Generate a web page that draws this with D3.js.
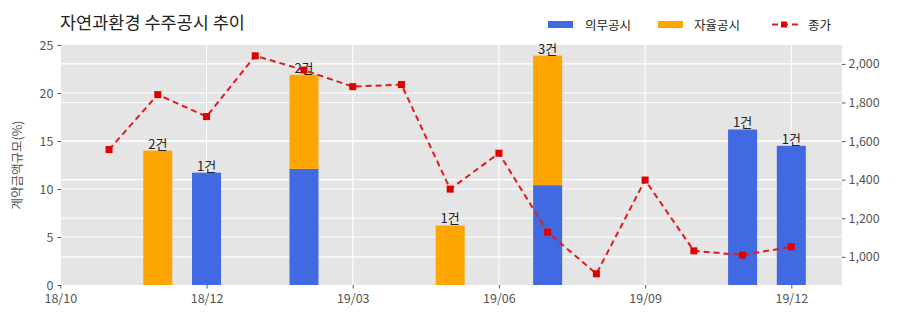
<!DOCTYPE html>
<html>
<head>
<meta charset="utf-8">
<script src="https://cdn.jsdelivr.net/npm/d3@7"></script>
<style>
  body { margin: 0; background: #fff; }
  text { font-family: "Noto Sans CJK KR", "Noto Sans", sans-serif; }
</style>
</head>
<body>
<svg width="900" height="323"></svg>
<script>
// x positions are month slots 0..15, tick labels as printed on the chart
const tickIdx = [0, 3, 6, 9, 12, 15];
const tickLabels = ['18/10', '18/12', '19/03', '19/06', '19/09', '19/12'];

// disclosure bars (contract size, % of sales)
const barIdx = [2, 3, 5, 8, 10, 14, 15];
const mandatory = [0, 11.7, 12.1, 0, 10.4, 16.2, 14.5];
const voluntary = [14.0, 0, 9.8, 6.2, 13.5, 0, 0];
const counts = [2, 1, 2, 1, 3, 1, 1];

// closing price
const priceIdx = [1, 2, 3, 4, 5, 6, 7, 8, 9, 10, 11, 12, 13, 14, 15];
const price = [1556, 1841, 1727, 2042, 1968, 1882, 1893, 1351, 1537, 1128, 912, 1398, 1031, 1009, 1052];

const leftTicks = [0, 5, 10, 15, 20, 25];
const rightTicks = [1000, 1200, 1400, 1600, 1800, 2000];

const svg = d3.select('svg');
const pl = 61, pr = 842, pt = 45, pb = 285;

const x = d3.scaleLinear().domain([0.014, 16.04]).range([pl, pr]);
const y = d3.scaleLinear().domain([0, 25]).range([pb, pt]);
const y2 = d3.scaleLinear().domain([854, 2098]).range([pb, pt]);

// panel
svg.append('rect').attr('x', pl).attr('y', pt)
  .attr('width', pr - pl).attr('height', pb - pt).attr('fill', '#e5e5e5');

const grid = svg.append('g').attr('stroke', '#fff').attr('stroke-width', 1.1);
grid.selectAll('.gl').data(leftTicks.slice(1, -1)).enter().append('line')
  .attr('x1', pl).attr('x2', pr).attr('y1', d => y(d)).attr('y2', d => y(d));
grid.selectAll('.gr').data(rightTicks).enter().append('line')
  .attr('x1', pl).attr('x2', pr).attr('y1', d => y2(d)).attr('y2', d => y2(d));
grid.selectAll('.gx').data(tickIdx.slice(1)).enter().append('line')
  .attr('y1', pt).attr('y2', pb).attr('x1', d => x(d)).attr('x2', d => x(d));

// stacked bars
const bw = 29;
const bars = barIdx.map((idx, i) => ({ idx, m: mandatory[i], v: voluntary[i], n: counts[i] }));
svg.selectAll('.bm').data(bars.filter(d => d.m > 0)).enter().append('rect')
  .attr('x', d => x(d.idx) - bw / 2).attr('width', bw)
  .attr('y', d => y(d.m)).attr('height', d => y(0) - y(d.m))
  .attr('fill', '#4169e1');
svg.selectAll('.bv').data(bars.filter(d => d.v > 0)).enter().append('rect')
  .attr('x', d => x(d.idx) - bw / 2).attr('width', bw)
  .attr('y', d => y(d.m + d.v)).attr('height', d => y(d.m) - y(d.m + d.v))
  .attr('fill', '#ffa500');
svg.selectAll('.bl').data(bars).enter().append('text')
  .attr('x', d => x(d.idx)).attr('y', d => y(d.m + d.v) - 2)
  .attr('text-anchor', 'middle').attr('font-size', 13).attr('fill', '#222')
  .text(d => d.n + '건');

// price line
const pts = priceIdx.map((idx, i) => [idx, price[i]]);
svg.append('path').datum(pts)
  .attr('fill', 'none').attr('stroke', '#e31a1c').attr('stroke-width', 2)
  .attr('stroke-dasharray', '6,4')
  .attr('d', d3.line().x(d => x(d[0])).y(d => y2(d[1])));
svg.selectAll('.pm').data(pts).enter().append('rect')
  .attr('x', d => x(d[0]) - 3.5).attr('y', d => y2(d[1]) - 3.5)
  .attr('width', 7).attr('height', 7).attr('fill', '#e00000');

// axes
const axStyle = g => {
  g.select('.domain').remove();
  g.selectAll('line').attr('stroke', '#555');
  g.selectAll('text').attr('fill', '#555').attr('font-size', 12.5);
};
svg.append('g').attr('transform', `translate(${pl},0)`)
  .call(d3.axisLeft(y).tickValues(leftTicks).tickSize(3.5).tickPadding(4))
  .call(axStyle);
svg.append('g').attr('transform', `translate(${pr},0)`)
  .call(d3.axisRight(y2).tickValues(rightTicks).tickSize(3.5).tickPadding(3)
    .tickFormat(d3.format(',')))
  .call(axStyle);
svg.append('g').attr('transform', `translate(0,${pb})`)
  .call(d3.axisBottom(x).tickValues(tickIdx).tickSize(3.5).tickPadding(6)
    .tickFormat((d, i) => tickLabels[i]))
  .call(axStyle);

svg.append('text').attr('transform', `translate(22,165) rotate(-90)`)
  .attr('text-anchor', 'middle').attr('font-size', 12.5).attr('fill', '#555')
  .text('계약금액규모(%)');

// title
svg.append('text').attr('x', 60).attr('y', 29).attr('font-size', 17.5).attr('fill', '#222')
  .text('자연과환경 수주공시 추이');

// legend
const lg = svg.append('g').attr('font-size', 12.5).attr('fill', '#222');
lg.append('rect').attr('x', 548).attr('y', 21).attr('width', 25).attr('height', 7).attr('fill', '#4169e1');
lg.append('text').attr('x', 585).attr('y', 30).text('의무공시');
lg.append('rect').attr('x', 658).attr('y', 21).attr('width', 25).attr('height', 7).attr('fill', '#ffa500');
lg.append('text').attr('x', 694).attr('y', 30).text('자율공시');
lg.append('line').attr('x1', 772).attr('x2', 800).attr('y1', 24.5).attr('y2', 24.5)
  .attr('stroke', '#e31a1c').attr('stroke-width', 2).attr('stroke-dasharray', '6,4');
lg.append('rect').attr('x', 781).attr('y', 21.5).attr('width', 6).attr('height', 6).attr('fill', '#e00000');
lg.append('text').attr('x', 808).attr('y', 30).text('종가');
</script>
</body>
</html>
